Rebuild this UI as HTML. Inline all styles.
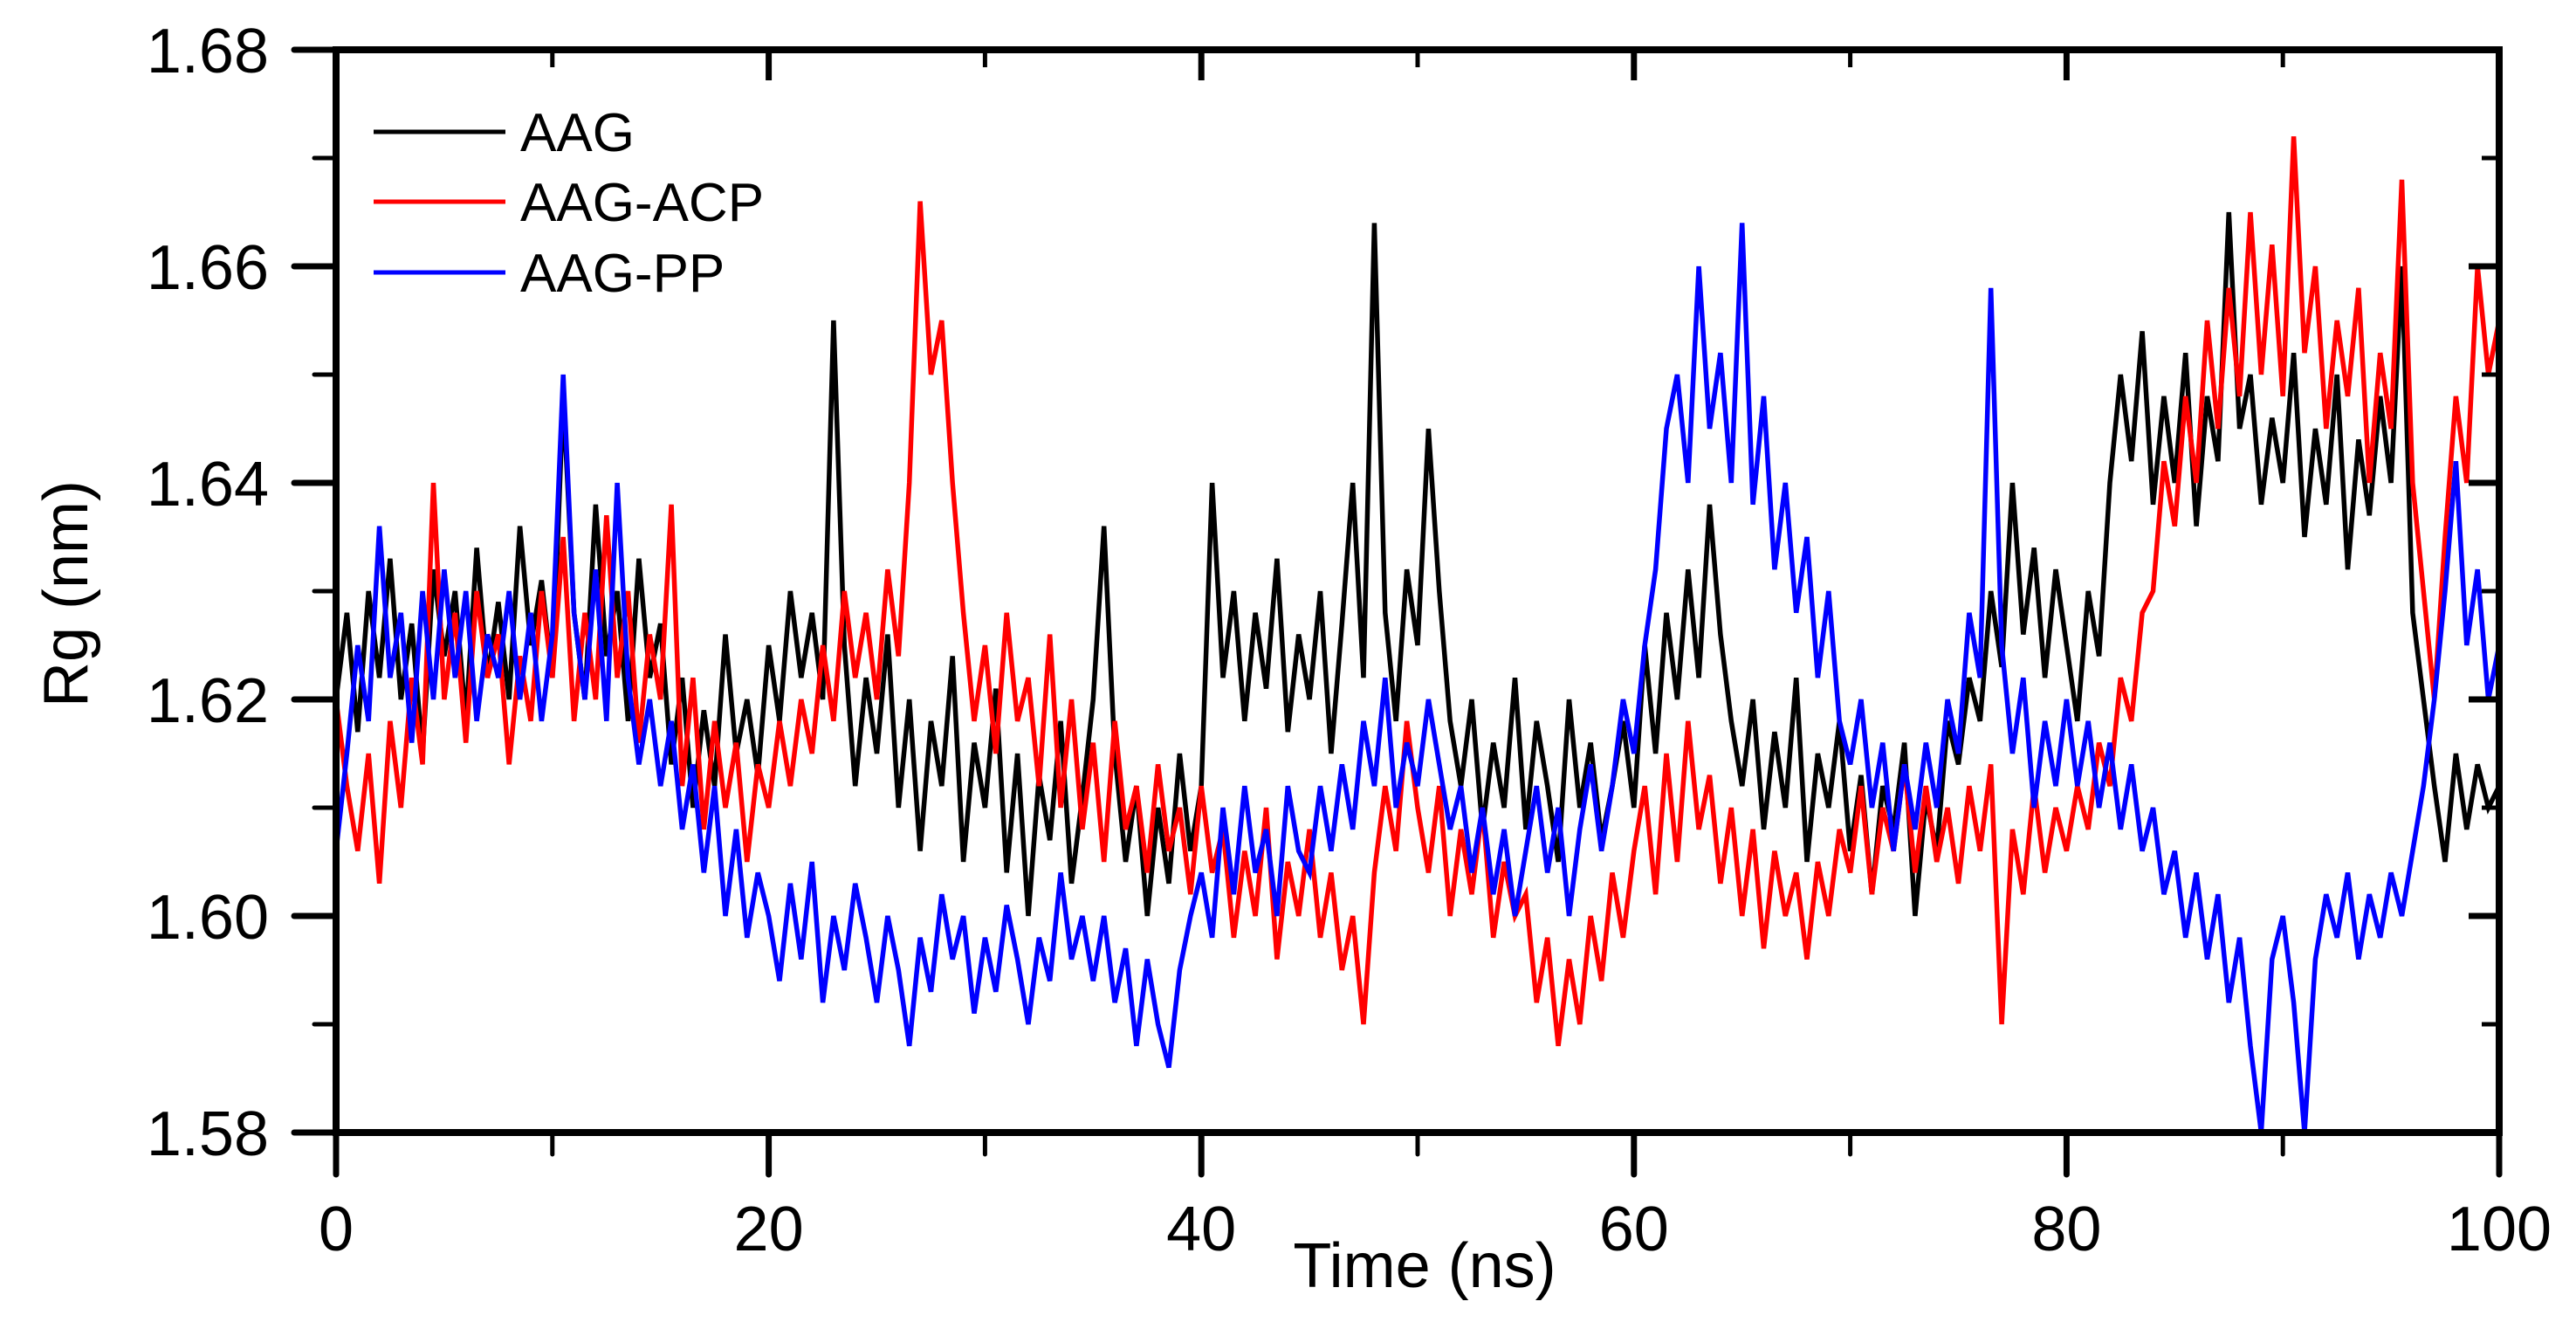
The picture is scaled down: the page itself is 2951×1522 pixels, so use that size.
<!DOCTYPE html>
<html><head><meta charset="utf-8"><style>
html,body{margin:0;padding:0;background:#fff;}
svg{display:block;font-family:"Liberation Sans",Arial,sans-serif;}
</style></head><body>
<svg id="chart" width="2951" height="1522" viewBox="0 0 2951 1522" xmlns="http://www.w3.org/2000/svg">
<g id="series"></g>
<g id="axes"></g>
<g id="legend"></g>
</svg>
<script>
const xTicks = [0,20,40,60,80,100];
const yTicks = [1.58,1.60,1.62,1.64,1.66,1.68];
const yTickLabels = ["1.58","1.60","1.62","1.64","1.66","1.68"];
const seriesNames = ["AAG","AAG-ACP","AAG-PP"];
const timeStep = 0.5;
const aag = [
1.620,1.628,1.617,1.630,1.622,1.633,1.620,1.627,1.615,1.632,
1.624,1.630,1.618,1.634,1.622,1.629,1.620,1.636,1.625,1.631,
1.622,1.648,1.628,1.620,1.638,1.624,1.630,1.618,1.633,1.622,
1.627,1.614,1.622,1.610,1.619,1.612,1.626,1.615,1.620,1.613,
1.625,1.618,1.630,1.622,1.628,1.620,1.655,1.625,1.612,1.622,
1.615,1.626,1.610,1.620,1.606,1.618,1.612,1.624,1.605,1.616,
1.610,1.621,1.604,1.615,1.600,1.613,1.607,1.618,1.603,1.611,
1.620,1.636,1.615,1.605,1.612,1.600,1.610,1.603,1.615,1.606,
1.612,1.640,1.622,1.630,1.618,1.628,1.621,1.633,1.617,1.626,
1.620,1.630,1.615,1.627,1.640,1.622,1.664,1.628,1.618,1.632,
1.625,1.645,1.630,1.618,1.612,1.620,1.608,1.616,1.610,1.622,
1.608,1.618,1.612,1.605,1.620,1.610,1.616,1.607,1.612,1.618,
1.610,1.625,1.615,1.628,1.620,1.632,1.622,1.638,1.626,1.618,
1.612,1.620,1.608,1.617,1.610,1.622,1.605,1.615,1.610,1.618,
1.606,1.613,1.602,1.612,1.608,1.616,1.600,1.611,1.606,1.618,
1.614,1.622,1.618,1.630,1.623,1.640,1.626,1.634,1.622,1.632,
1.625,1.618,1.630,1.624,1.640,1.650,1.642,1.654,1.638,1.648,
1.640,1.652,1.636,1.648,1.642,1.665,1.645,1.650,1.638,1.646,
1.640,1.652,1.635,1.645,1.638,1.650,1.632,1.644,1.637,1.648,
1.640,1.660,1.628,1.620,1.612,1.605,1.615,1.608,1.614,1.610,
1.612];
const aagAcp = [
1.620,1.612,1.606,1.615,1.603,1.618,1.610,1.622,1.614,1.640,
1.620,1.628,1.616,1.630,1.622,1.626,1.614,1.624,1.618,1.630,
1.622,1.635,1.618,1.628,1.620,1.637,1.622,1.630,1.616,1.626,
1.620,1.638,1.612,1.622,1.608,1.618,1.610,1.616,1.605,1.614,
1.610,1.618,1.612,1.620,1.615,1.625,1.618,1.630,1.622,1.628,
1.620,1.632,1.624,1.640,1.666,1.650,1.655,1.640,1.628,1.618,
1.625,1.615,1.628,1.618,1.622,1.612,1.626,1.610,1.620,1.608,
1.616,1.605,1.618,1.608,1.612,1.604,1.614,1.606,1.610,1.602,
1.612,1.604,1.608,1.598,1.606,1.600,1.610,1.596,1.605,1.600,
1.608,1.598,1.604,1.595,1.600,1.590,1.604,1.612,1.606,1.618,
1.610,1.604,1.612,1.600,1.608,1.602,1.610,1.598,1.605,1.600,
1.602,1.592,1.598,1.588,1.596,1.590,1.600,1.594,1.604,1.598,
1.606,1.612,1.602,1.615,1.605,1.618,1.608,1.613,1.603,1.610,
1.600,1.608,1.597,1.606,1.600,1.604,1.596,1.605,1.600,1.608,
1.604,1.612,1.602,1.610,1.606,1.614,1.604,1.612,1.605,1.610,
1.603,1.612,1.606,1.614,1.590,1.608,1.602,1.612,1.604,1.610,
1.606,1.612,1.608,1.616,1.612,1.622,1.618,1.628,1.630,1.642,
1.636,1.648,1.640,1.655,1.645,1.658,1.648,1.665,1.650,1.662,
1.648,1.672,1.652,1.660,1.645,1.655,1.648,1.658,1.640,1.652,
1.645,1.668,1.640,1.630,1.620,1.635,1.648,1.640,1.660,1.650,
1.655];
const aagPp = [
1.606,1.615,1.625,1.618,1.636,1.622,1.628,1.616,1.630,1.620,
1.632,1.622,1.630,1.618,1.626,1.622,1.630,1.620,1.628,1.618,
1.626,1.650,1.628,1.620,1.632,1.618,1.640,1.622,1.614,1.620,
1.612,1.618,1.608,1.614,1.604,1.612,1.600,1.608,1.598,1.604,
1.600,1.594,1.603,1.596,1.605,1.592,1.600,1.595,1.603,1.598,
1.592,1.600,1.595,1.588,1.598,1.593,1.602,1.596,1.600,1.591,
1.598,1.593,1.601,1.596,1.590,1.598,1.594,1.604,1.596,1.600,
1.594,1.600,1.592,1.597,1.588,1.596,1.590,1.586,1.595,1.600,
1.604,1.598,1.610,1.602,1.612,1.604,1.608,1.600,1.612,1.606,
1.604,1.612,1.606,1.614,1.608,1.618,1.612,1.622,1.610,1.616,
1.612,1.620,1.614,1.608,1.612,1.604,1.610,1.602,1.608,1.600,
1.606,1.612,1.604,1.610,1.600,1.608,1.614,1.606,1.612,1.620,
1.615,1.625,1.632,1.645,1.650,1.640,1.660,1.645,1.652,1.640,
1.664,1.638,1.648,1.632,1.640,1.628,1.635,1.622,1.630,1.618,
1.614,1.620,1.610,1.616,1.606,1.614,1.608,1.616,1.610,1.620,
1.615,1.628,1.622,1.658,1.625,1.615,1.622,1.610,1.618,1.612,
1.620,1.612,1.618,1.610,1.616,1.608,1.614,1.606,1.610,1.602,
1.606,1.598,1.604,1.596,1.602,1.592,1.598,1.588,1.580,1.596,
1.600,1.592,1.580,1.596,1.602,1.598,1.604,1.596,1.602,1.598,
1.604,1.600,1.606,1.612,1.620,1.630,1.642,1.625,1.632,1.620,
1.625];

const NS="http://www.w3.org/2000/svg";
const L=385,R=2863,T=57,B=1297;
const xMin=0,xMax=100,yMin=1.58,yMax=1.68;
function xs(v){return L+(v-xMin)/(xMax-xMin)*(R-L);}
function ys(v){return B-(v-yMin)/(yMax-yMin)*(B-T);}
function mk(tag,attrs,parent){const e=document.createElementNS(NS,tag);for(const k in attrs)e.setAttribute(k,attrs[k]);parent.appendChild(e);return e;}

const sg=document.getElementById('series');
const colors=["#000000","#ff0000","#0000ff"];
const data=[aag,aagAcp,aagPp];
const sNames=["series-aag","series-aag-acp","series-aag-pp"];
data.forEach((arr,i)=>{
  const d=arr.map((v,j)=>(j?'L':'M')+xs(j*timeStep).toFixed(1)+' '+ys(v).toFixed(1)).join(' ');
  const p=mk('path',{d:d,fill:'none',stroke:colors[i],'stroke-width':5.5,'stroke-linejoin':'miter'},sg);
  
  
});

const ag=document.getElementById('axes');
const frame=mk('rect',{x:L,y:T,width:R-L,height:B-T,fill:'none',stroke:'#000','stroke-width':8},ag);


for(let v=0;v<=100;v+=10){
  const major=v%20===0;
  const x=xs(v);
  const t=mk('line',{x1:x,y1:B,x2:x,y2:B+(major?48:25),stroke:'#000','stroke-width':major?7:5,'stroke-linecap':'round'},ag);
  
  
  const t2=mk('line',{x1:x,y1:T,x2:x,y2:T+(major?35:20),stroke:'#000','stroke-width':major?7:5},ag);
  
  
}
xTicks.forEach(v=>{
  const tx=mk('text',{x:xs(v),y:1432,'font-size':72,'text-anchor':'middle',fill:'#000'},ag);
  tx.textContent=String(v);
  
  
});
for(let k=0;k<=10;k++){
  const v=yMin+k*0.01;
  const major=k%2===0;
  const y=ys(v);
  const t=mk('line',{x1:L,y1:y,x2:L-(major?48:25),y2:y,stroke:'#000','stroke-width':major?7:5,'stroke-linecap':'round'},ag);
  
  
  const t2=mk('line',{x1:R,y1:y,x2:R-(major?35:20),y2:y,stroke:'#000','stroke-width':major?7:5},ag);
  
  
}
yTicks.forEach((v,i)=>{
  const tx=mk('text',{x:308,y:ys(v)+26,'font-size':72,'text-anchor':'end',fill:'#000'},ag);
  tx.textContent=yTickLabels[i];
  
  
});
const xt=mk('text',{x:1632,y:1474,'font-size':72,'text-anchor':'middle',fill:'#000'},ag);
xt.textContent='Time (ns)';


const yt=mk('text',{x:0,y:0,'font-size':72,'text-anchor':'middle',fill:'#000',transform:'translate(100,680) rotate(-90)'},ag);
yt.textContent='Rg (nm)';



const lg=document.getElementById('legend');
const ly=[151,231,312];
seriesNames.forEach((n,i)=>{
  const ln=mk('line',{x1:428,y1:ly[i],x2:579,y2:ly[i],stroke:colors[i],'stroke-width':5},lg);
  
  
  const tx=mk('text',{x:596,y:ly[i]+22,'font-size':62,fill:'#000'},lg);
  tx.textContent=n;
  
  
});
</script>
</body></html>
